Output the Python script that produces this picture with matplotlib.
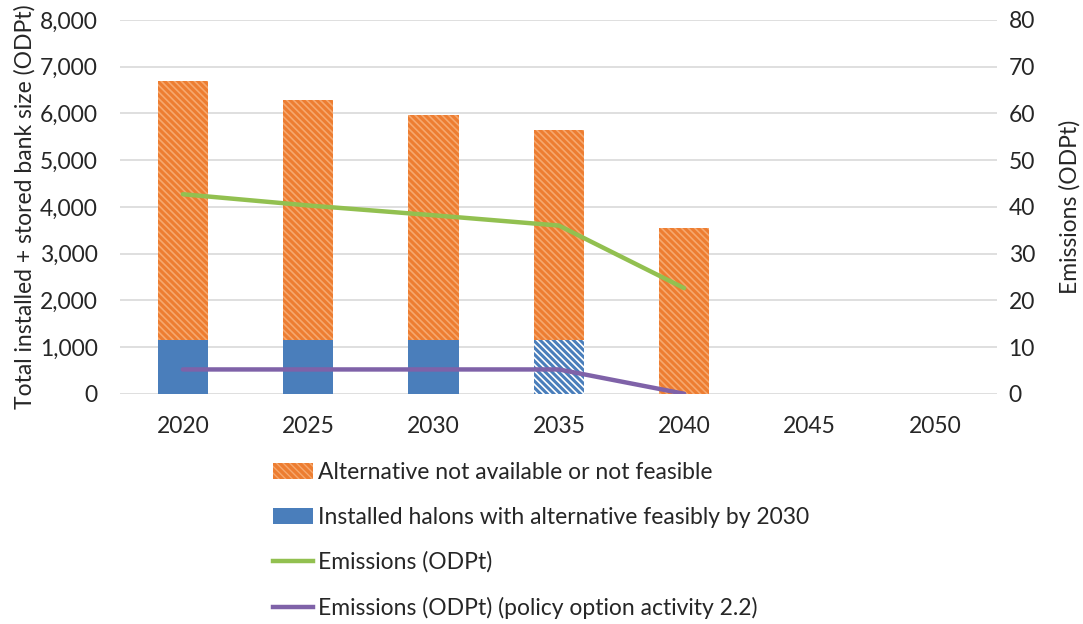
import matplotlib
matplotlib.use("Agg")
import matplotlib.pyplot as plt
import numpy as np
from matplotlib.patches import Patch
from matplotlib.lines import Line2D

years = ["2020", "2025", "2030", "2035", "2040", "2045", "2050"]
installed_alt = [1140, 1140, 1140, 1140, 0, 0, 0]
not_feasible = [5560, 5150, 4820, 4510, 3550, 0, 0]
emissions = [42.7, 40.3, 38.2, 36.0, 22.6]
emissions_policy = [5.2, 5.2, 5.2, 5.2, 0.0]
hatched_installed = ["2035"]

plt.rcParams['font.family'] = ['Lato', 'DejaVu Sans']
text_col = "#262626"
orange = "#ED7D31"
orange_light = "#F6A86E"
blue = "#4A7EBB"
green = "#92C050"
purple = "#7F62A8"
grid_col = "#D9D9D9"
fs = 16.5

fig = plt.figure(figsize=(10.83, 6.24), dpi=100)
ax = fig.add_axes([0.111, 0.369, 0.81, 0.599])
ax2 = ax.twinx()

x = np.arange(len(years))
w = 0.4
for i, yr in enumerate(years):
    if yr in hatched_installed:
        with plt.rc_context({'hatch.linewidth': 2.2}):
            ax.bar(x[i], installed_alt[i], w, color="white", edgecolor=blue,
                   hatch="\\\\\\\\\\", linewidth=0, zorder=2)
    else:
        ax.bar(x[i], installed_alt[i], w, color=blue, linewidth=0, zorder=2)
with plt.rc_context({'hatch.linewidth': 1.2}):
    ax.bar(x, not_feasible, w, bottom=installed_alt, color=orange,
           edgecolor=orange_light, hatch="\\\\\\\\\\", linewidth=0, zorder=2)

ax2.plot(x[:len(emissions)], emissions, color=green, lw=3.2, zorder=3,
         solid_capstyle="round")
ax2.plot(x[:len(emissions_policy)], emissions_policy, color=purple, lw=3.2,
         zorder=3, solid_capstyle="round")

ax.set_xlim(-0.5, len(years) - 0.5)
ax.set_ylim(0, 8000)
ax2.set_ylim(0, 80)
ax.set_yticks(np.arange(0, 8001, 1000))
ax.set_yticklabels([f"{v:,}" for v in range(0, 8001, 1000)])
ax2.set_yticks(np.arange(0, 81, 10))
ax.set_xticks(x)
ax.set_xticklabels(years)
ax.grid(axis="y", color=grid_col, lw=1.2, zorder=0)
ax.set_axisbelow(True)
for a in (ax, ax2):
    for s in a.spines.values():
        s.set_visible(False)
    a.tick_params(length=0, labelsize=fs, colors=text_col)
ax.tick_params(axis="y", pad=16)
ax.tick_params(axis="x", pad=16)
ax2.tick_params(axis="y", pad=8)
ax2.set_zorder(ax.get_zorder() + 1)
ax2.patch.set_visible(False)

ax.set_ylabel("Total installed + stored bank size (ODPt)", fontsize=fs,
              color=text_col, labelpad=3)
ax2.set_ylabel("Emissions (ODPt)", fontsize=fs, color=text_col, labelpad=17)

with plt.rc_context({'hatch.linewidth': 1.2}):
    handles = [
        Patch(facecolor=orange, edgecolor=orange_light, hatch="\\\\\\\\\\", linewidth=0),
        Patch(facecolor=blue, linewidth=0),
        Line2D([0], [0], color=green, lw=3.2),
        Line2D([0], [0], color=purple, lw=3.2),
    ]
labels = [
    "Alternative not available or not feasible",
    "Installed halons with alternative feasibly by 2030",
    "Emissions (ODPt)",
    "Emissions (ODPt) (policy option activity 2.2)",
]
fig.legend(handles, labels, loc="upper left", bbox_to_anchor=(0.252, 0.26),
           frameon=False, fontsize=fs, labelspacing=1.04, handlelength=1.75,
           handleheight=0.7, handletextpad=0.2, labelcolor=text_col,
           borderaxespad=0, borderpad=0)

fig.savefig("out.png", dpi=100)
